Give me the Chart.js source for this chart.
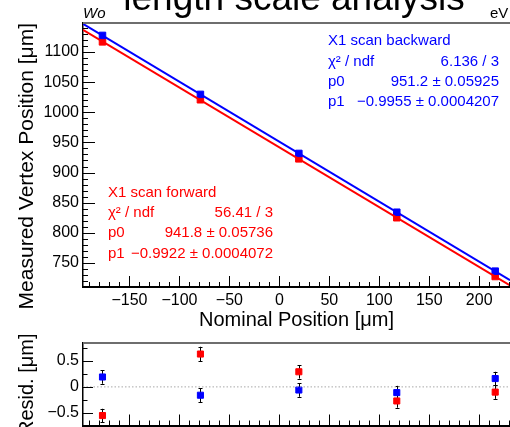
<!DOCTYPE html>
<html><head><meta charset="utf-8">
<script src="https://cdn.jsdelivr.net/npm/chart.js@4/dist/chart.umd.min.js"></script>
<style>
html,body{margin:0;padding:0;background:#fff;overflow:hidden}
#wrap{position:relative;width:510px;height:427px;overflow:hidden;background:#fff}
#c1wrap{position:absolute;left:0;top:0;width:510px;height:340px}
#c2wrap{position:absolute;left:0;top:330px;width:510px;height:97px}
</style></head><body>
<div id="wrap"><div id="c1wrap"><canvas id="c1"></canvas></div><div id="c2wrap"><canvas id="c2"></canvas></div></div>
<script>
// ---- data ----
const positions = [-177, -79, 19.5, 117.5, 216];           // nominal position [um]
const backwardMeasured = [1127.6, 1029.7, 931.7, 834.1, 736.3];
const forwardMeasured  = [1116.9, 1020.8, 922.75, 824.95, 727.4];
const fitEnds = [-196.5, 230.8];                           // fit line end points (x)
const backwardFitEnds = [1146.8, 721.4];
const forwardFitEnds  = [1136.8, 712.8];
const backwardResid = [0.19, -0.16, -0.06, -0.11, 0.16];
const forwardResid  = [-0.55, 0.63, 0.29, -0.27, -0.10];
const backwardResidErr = [0.13, 0.13, 0.13, 0.13, 0.13];
const forwardResidErr  = [0.13, 0.14, 0.13, 0.13, 0.13];
const backwardStats = [['X1 scan backward', ''], ['χ² / ndf', '6.136 / 3'], ['p0', '951.2 ± 0.05925'], ['p1', '−0.9955 ± 0.0004207']];
const forwardStats  = [['X1 scan forward', ''], ['χ² / ndf', '56.41 / 3'], ['p0', '941.8 ± 0.05736'], ['p1', '−0.9922 ± 0.0004072']];
const titleText = 'length scale analysis';
const cornerLeft = 'Wo';
const cornerRight = 'eV';
const xRange = [-196.5, 230.8];
const yRangeTop = [710, 1148.2];
const yRangeResid = [-0.741, 0.842];

const BLUE = '#0000ff', RED = '#ff0000';
const FONT = "'Liberation Sans', Arial, Helvetica, sans-serif";
Chart.defaults.font.family = FONT;
Chart.defaults.color = '#000';
const minus = v => String(v).replace('-', '\u2212');

function tickPlugin(o) {
  return {
    id: 'inTicks',
    afterDraw(chart) {
      const {ctx, chartArea: a, scales: {x, y}} = chart;
      ctx.save();
      ctx.strokeStyle = '#6e6e6e'; ctx.lineWidth = 2;
      ctx.beginPath(); ctx.moveTo(a.left, a.top); ctx.lineTo(a.right + 2, a.top); ctx.stroke();
      ctx.strokeStyle = '#000'; ctx.lineWidth = 1;
      ctx.beginPath();
      for (let v = Math.ceil(x.min / o.xStep) * o.xStep; v <= x.max; v += o.xStep) {
        const px = Math.round(x.getPixelForValue(v)) + 0.5;
        const major = Math.abs(v / o.xMajorStep - Math.round(v / o.xMajorStep)) < 1e-6;
        const len = major ? o.xMajor : o.xMinor;
        ctx.moveTo(px, a.bottom); ctx.lineTo(px, a.bottom - len);
      }
      const n0 = Math.ceil(y.min / o.yStep - 1e-9);
      for (let k = n0; k * o.yStep <= y.max + 1e-9; k++) {
        const v = k * o.yStep;
        const py = Math.round(y.getPixelForValue(v)) + 0.5;
        const major = Math.abs(v / o.yMajorStep - Math.round(v / o.yMajorStep)) < 1e-6;
        const len = major ? o.yMajor : o.yMinor;
        ctx.moveTo(a.left, py); ctx.lineTo(a.left + len, py);
      }
      ctx.stroke();
      ctx.restore();
    }
  };
}

const textPlugin = {
  id: 'texts',
  afterDraw(chart) {
    const ctx = chart.ctx;
    ctx.save();
    ctx.textBaseline = 'alphabetic';
    ctx.fillStyle = '#000';
    ctx.font = '37px ' + FONT; ctx.textAlign = 'center';
    ctx.fillText(titleText, 294, 10);
    ctx.font = 'italic 15px ' + FONT; ctx.textAlign = 'left';
    ctx.fillText(cornerLeft, 83, 18);
    ctx.font = '15px ' + FONT;
    ctx.fillText(cornerRight, 490, 18);
    const drawStats = (rows, color, left, right, y0, dy) => {
      ctx.fillStyle = color; ctx.font = '15px ' + FONT; ctx.textBaseline = 'middle';
      rows.forEach((r, i) => {
        ctx.textAlign = 'left'; ctx.fillText(r[0], left, y0 + i * dy);
        if (r[1]) { ctx.textAlign = 'right'; ctx.fillText(r[1], right, y0 + i * dy); }
      });
    };
    drawStats(backwardStats, BLUE, 328, 499, 41, 20.4);
    drawStats(forwardStats, RED, 108, 273, 192.5, 20.4);
    ctx.restore();
  }
};

const errPlugin = {
  id: 'errbars',
  beforeDatasetsDraw(chart) {
    const {ctx, scales: {x, y}} = chart;
    ctx.save(); ctx.strokeStyle = '#000'; ctx.lineWidth = 1;
    chart.data.datasets.forEach(ds => {
      if (!ds.errors) return;
      ds.data.forEach((p, i) => {
        const px = Math.round(x.getPixelForValue(p.x)) + 0.5;
        const y1 = y.getPixelForValue(p.y + ds.errors[i]);
        const y2 = y.getPixelForValue(p.y - ds.errors[i]);
        ctx.beginPath();
        ctx.moveTo(px, y1); ctx.lineTo(px, y2);
        ctx.moveTo(px - 2, Math.round(y1) + 0.5); ctx.lineTo(px + 2, Math.round(y1) + 0.5);
        ctx.moveTo(px - 2, Math.round(y2) + 0.5); ctx.lineTo(px + 2, Math.round(y2) + 0.5);
        ctx.stroke();
      });
    });
    ctx.restore();
  }
};

const pts = (xs, ys) => xs.map((x, i) => ({x, y: ys[i]}));

new Chart(document.getElementById('c1'), {
  type: 'scatter',
  data: {datasets: [
    {label: 'backward fit', data: pts(fitEnds, backwardFitEnds), showLine: true, borderColor: BLUE, borderWidth: 2, pointRadius: 0},
    {label: 'forward fit', data: pts(fitEnds, forwardFitEnds), showLine: true, borderColor: RED, borderWidth: 2, pointRadius: 0},
    {label: 'X1 scan backward', data: pts(positions, backwardMeasured), pointStyle: 'rect', pointRadius: 4.6, backgroundColor: BLUE, borderColor: BLUE, borderWidth: 1},
    {label: 'X1 scan forward', data: pts(positions, forwardMeasured), pointStyle: 'rect', pointRadius: 4.6, backgroundColor: RED, borderColor: RED, borderWidth: 1}
  ]},
  options: {
    responsive: true, maintainAspectRatio: false, devicePixelRatio: 1, animation: false,
    layout: {autoPadding: false, padding: {top: 23, left: 0, right: 0, bottom: 0}},
    plugins: {legend: {display: false}, tooltip: {enabled: false}},
    scales: {
      x: {type: 'linear', min: xRange[0], max: xRange[1],
        grid: {display: false, drawTicks: false}, border: {display: true, color: '#000', width: 2},
        ticks: {stepSize: 50, includeBounds: false, padding: 4, font: {size: 16}, callback: minus, maxRotation: 0, autoSkip: false},
        title: {display: true, text: 'Nominal Position [μm]', font: {size: 20}, padding: {top: 0, bottom: 7.5}},
        afterFit: s => { s.height = 53; s.paddingLeft = 0; s.paddingRight = 0; }},
      y: {type: 'linear', min: yRangeTop[0], max: yRangeTop[1],
        grid: {display: false, drawTicks: false}, border: {display: true, color: '#000', width: 1.5},
        ticks: {stepSize: 50, includeBounds: false, padding: 4, font: {size: 16}, callback: minus, autoSkip: false},
        title: {display: true, text: 'Measured Vertex Position [μm]', align: 'end', font: {size: 21}, padding: {top: 15, bottom: 0}},
        afterFit: s => { s.width = 83; s.paddingTop = 0; s.paddingBottom = 0; }}
    }
  },
  plugins: [tickPlugin({xStep: 10, xMajorStep: 50, xMajor: 11, xMinor: 5, yStep: 10, yMajorStep: 50, yMajor: 12, yMinor: 5}), textPlugin]
});

new Chart(document.getElementById('c2'), {
  type: 'scatter',
  data: {datasets: [
    {label: 'zero', data: pts(fitEnds, [0, 0]), showLine: true, borderColor: '#a8a8a8', borderWidth: 1, borderDash: [1.5, 2], pointRadius: 0},
    {label: 'X1 scan backward', data: pts(positions, backwardResid), errors: backwardResidErr, pointStyle: 'rect', pointRadius: 4.3, backgroundColor: BLUE, borderColor: BLUE, borderWidth: 1},
    {label: 'X1 scan forward', data: pts(positions, forwardResid), errors: forwardResidErr, pointStyle: 'rect', pointRadius: 4.3, backgroundColor: RED, borderColor: RED, borderWidth: 1}
  ]},
  options: {
    responsive: true, maintainAspectRatio: false, devicePixelRatio: 1, animation: false,
    layout: {autoPadding: false, padding: {top: 13, left: 0, right: 0, bottom: 0}},
    plugins: {legend: {display: false}, tooltip: {enabled: false}},
    scales: {
      x: {type: 'linear', min: xRange[0], max: xRange[1],
        grid: {display: false, drawTicks: false}, border: {display: true, color: '#000', width: 2},
        ticks: {display: false},
        afterFit: s => { s.height = 1.5; s.paddingLeft = 0; s.paddingRight = 0; }},
      y: {type: 'linear', min: yRangeResid[0], max: yRangeResid[1],
        grid: {display: false, drawTicks: false}, border: {display: true, color: '#000', width: 1.5},
        ticks: {stepSize: 0.5, includeBounds: false, padding: 4, font: {size: 16}, callback: minus, autoSkip: false},
        title: {display: true, text: 'Resid. [μm]', font: {size: 20}, padding: {top: 15, bottom: 0}},
        afterFit: s => { s.width = 83; s.paddingTop = 0; s.paddingBottom = 0; }}
    }
  },
  plugins: [tickPlugin({xStep: 10, xMajorStep: 50, xMajor: 11, xMinor: 5, yStep: 0.25, yMajorStep: 0.5, yMajor: 10, yMinor: 4.5}), errPlugin]
});
</script>
</body></html>
